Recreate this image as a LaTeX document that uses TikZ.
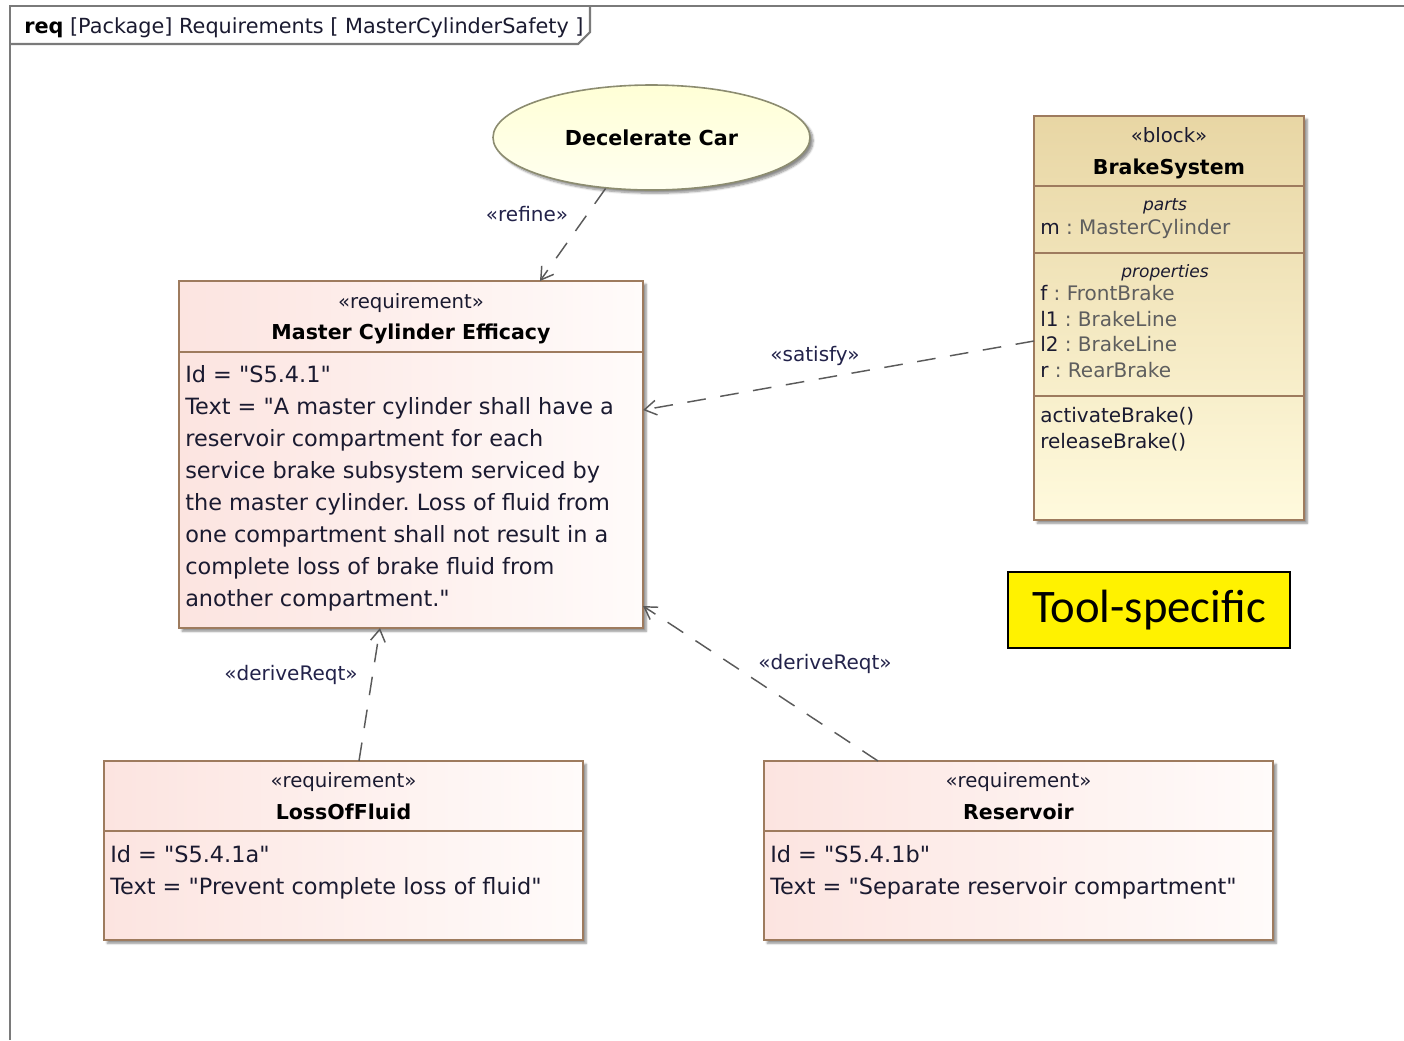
\documentclass[tikz,border=0pt]{standalone}
\usepackage{fontspec}
\setmainfont{DejaVu Sans}[Ligatures=TeXOff]
\newfontfamily\calloutfont{Carlito}
\usetikzlibrary{arrows.meta,shapes.geometric,shadows.blur,fit,calc}
\frenchspacing

\definecolor{framegray}{HTML}{7A7A7A}
\definecolor{boxbrown}{HTML}{9E7B5E}
\definecolor{reqleft}{HTML}{FCE4E0}
\definecolor{reqright}{HTML}{FFFBFA}
\definecolor{blktop}{HTML}{E8D6A4}
\definecolor{blkbot}{HTML}{FFFADD}
\definecolor{ucfillA}{HTML}{FFFFD6}
\definecolor{ucfillB}{HTML}{FFFFF0}
\definecolor{ucline}{HTML}{8C8C70}
\definecolor{deptext}{HTML}{22224A}
\definecolor{bodyink}{HTML}{1A1A30}
\definecolor{typegray}{HTML}{5E5E5E}
\definecolor{depline}{HTML}{5A5A5A}

\tikzset{
  boxshadow/.style={blur shadow={shadow xshift=2.4pt,shadow yshift=-2.4pt,
      shadow blur steps=6,shadow blur radius=1.6pt,shadow opacity=45}},
  reqbox/.style={draw=boxbrown,line width=1.4pt,left color=reqleft,right color=reqright,
      inner sep=0pt,outer sep=0pt,boxshadow},
  blkbox/.style={draw=boxbrown,line width=1.4pt,top color=blktop,bottom color=blkbot,
      inner sep=0pt,outer sep=0pt,boxshadow},
  boxrule/.style={draw=boxbrown,line width=1.4pt},
  frameline/.style={draw=framegray,line width=1.6pt},
  stereo/.style={inner sep=0pt,anchor=base,text=bodyink,font=\fontsize{14.8}{17}\selectfont},
  reqname/.style={inner sep=0pt,anchor=base,text=black,font=\bfseries\fontsize{15.4}{18}\selectfont},
  bodytext/.style={inner sep=0pt,anchor=base west,text=bodyink,font=\fontsize{16.8}{20}\selectfont},
  blkitem/.style={inner sep=0pt,anchor=base west,text=bodyink,font=\fontsize{15}{18}\selectfont},
  compartment/.style={inner sep=0pt,anchor=base,text=bodyink,font=\itshape\fontsize{12.8}{15}\selectfont},
  deplabel/.style={inner sep=0pt,text=deptext,font=\fontsize{15}{18}\selectfont},
  dep/.style={draw=depline,line width=1.1pt,dash pattern=on 14pt off 11pt,
      -{Straight Barb[length=9pt,width=11pt,line width=1.1pt]}},
}

\begin{document}
\begin{tikzpicture}[x=0.75pt,y=-0.75pt]
\useasboundingbox (0,0) rectangle (1404,1040);

% diagram frame and its name tab
\draw[frameline] (10,1040) -- (10,6) -- (1404,6);
\draw[frameline] (10,44) -- (578,44) -- (590,32) -- (590,6);
\node[inner sep=0pt,anchor=base west,text=bodyink,font=\fontsize{15.6}{18}\selectfont] (title) at (24,33)
  {{\color{black}\bfseries req} [Package] Requirements [ MasterCylinderSafety ]};

% use case
\node[ellipse,draw=ucline,line width=1.2pt,top color=ucfillA,bottom color=ucfillB,
  minimum width=237.75pt,minimum height=78.75pt,inner sep=0pt,boxshadow,
  font=\bfseries\fontsize{15.5}{18}\selectfont] (dc) at (651.5,137.5) {Decelerate Car};

% requirement: Master Cylinder Efficacy
\node[reqbox,fit={(179,281) (643,628)}] (mce) {};
\draw[boxrule] (mce.west |- 0,352) -- (mce.east |- 0,352);
\node[stereo] (mce-st) at (411,308) {«requirement»};
\node[reqname] (mce-name) at (411,339) {Master Cylinder Efficacy};
\foreach \ln [count=\i from 0] in {{Id = "S5.4.1"},{Text = "A master cylinder shall have a},
  {reservoir compartment for each},{service brake subsystem serviced by},
  {the master cylinder. Loss of fluid from},{one compartment shall not result in a},
  {complete loss of brake fluid from},{another compartment."}}
  \node[bodytext] (mce-line\i) at (185,382+32.1*\i) {\ln};

% block: BrakeSystem
\node[blkbox,fit={(1034,116) (1304,520)}] (blk) {};
\draw[boxrule] (blk.west |- 0,186) -- (blk.east |- 0,186);
\draw[boxrule] (blk.west |- 0,253) -- (blk.east |- 0,253);
\draw[boxrule] (blk.west |- 0,396) -- (blk.east |- 0,396);
\node[stereo] (blk-st) at (1169,142) {«block»};
\node[reqname] (blk-name) at (1169,174) {BrakeSystem};
\node[compartment] (blk-parts) at (1165,210) {parts};
\node[blkitem] (blk-m) at (1040,234) {m {\color{typegray}: MasterCylinder}};
\node[compartment] (blk-props) at (1165,277) {properties};
\node[blkitem] (blk-f) at (1040,300) {f {\color{typegray}: FrontBrake}};
\node[blkitem] (blk-l1) at (1040,326) {l1 {\color{typegray}: BrakeLine}};
\node[blkitem] (blk-l2) at (1040,351) {l2 {\color{typegray}: BrakeLine}};
\node[blkitem] (blk-r) at (1040,377) {r {\color{typegray}: RearBrake}};
\node[blkitem] (blk-op1) at (1040,422) {activateBrake()};
\node[blkitem] (blk-op2) at (1040,448) {releaseBrake()};

% requirement: LossOfFluid
\node[reqbox,fit={(104,761) (583,940)}] (lof) {};
\draw[boxrule] (lof.west |- 0,831) -- (lof.east |- 0,831);
\node[stereo] (lof-st) at (343.5,787) {«requirement»};
\node[reqname] (lof-name) at (343.5,819) {LossOfFluid};
\node[bodytext] (lof-id) at (110,862) {Id = "S5.4.1a"};
\node[bodytext] (lof-text) at (110,894) {Text = "Prevent complete loss of fluid"};

% requirement: Reservoir
\node[reqbox,fit={(764,761) (1273,940)}] (res) {};
\draw[boxrule] (res.west |- 0,831) -- (res.east |- 0,831);
\node[stereo] (res-st) at (1018.5,787) {«requirement»};
\node[reqname] (res-name) at (1018.5,819) {Reservoir};
\node[bodytext] (res-id) at (770,862) {Id = "S5.4.1b"};
\node[bodytext] (res-text) at (770,894) {Text = "Separate reservoir compartment"};

% callout
\node[draw=black,line width=1pt,fill=yellow,minimum width=211.5pt,minimum height=57pt,
  inner sep=0pt,font=\calloutfont\fontsize{35}{40}\selectfont] (tool) at (1149,610) {Tool-specific};

% dependencies
\draw[dep] (dc.-132) -- (mce.north -| 540,0);
\node[deplabel] (lbl-refine) at (527,214) {«refine»};
\draw[dep] (blk.west |- 0,341) -- (mce.east |- 0,410);
\node[deplabel] (lbl-satisfy) at (815,356) {«satisfy»};
\draw[dep] (lof.north -| 359,0) -- (mce.south -| 380,0);
\node[deplabel] (lbl-derive-a) at (291,675) {«deriveReqt»};
\draw[dep] (res.north -| 878,0) -- (mce.east |- 0,606);
\node[deplabel] (lbl-derive-b) at (825,664) {«deriveReqt»};
\end{tikzpicture}
\end{document}
